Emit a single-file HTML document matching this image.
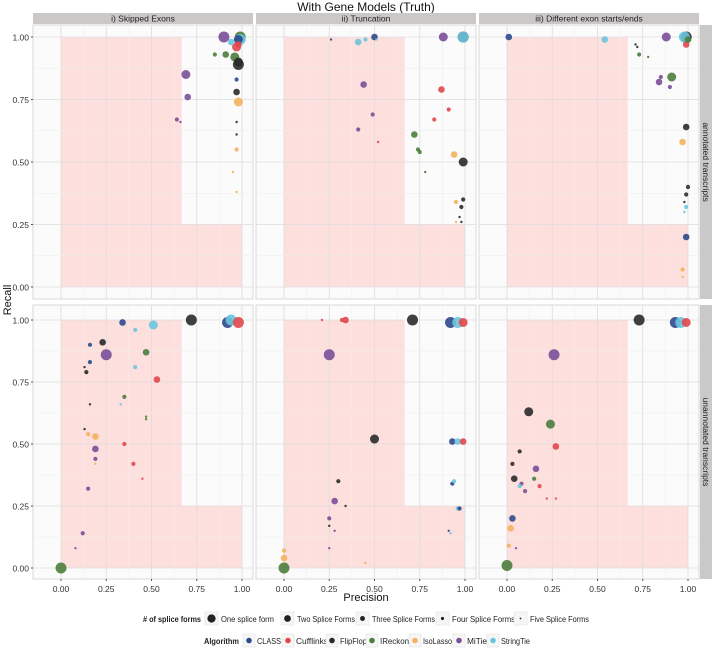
<!DOCTYPE html>
<html><head><meta charset="utf-8"><style>
body{margin:0;background:#fff;font-family:"Liberation Sans",sans-serif}
svg text{font-family:"Liberation Sans",sans-serif}
</style></head><body>
<svg id="chart" width="714" height="652" xmlns="http://www.w3.org/2000/svg">
<text x="366" y="11" font-size="12" text-anchor="middle" fill="#111">With Gene Models (Truth)</text>
<text transform="translate(11,300) rotate(-90)" font-size="11" text-anchor="middle" fill="#111">Recall</text>
<text x="366" y="601" font-size="11" text-anchor="middle" fill="#111">Precision</text>
<g id="panels"></g>
<g id="legend"></g>
</svg>
<script>
const algNames=["CLASS","Cufflinks","FlipFlop","IReckon","IsoLasso","MiTie","StringTie"];
const algColors=["#2c4a8c","#e0474c","#2a2a2a","#4b7d3c","#f4b15e","#7a4f98","#6cc5de"];
const formNames=["One splice form","Two Splice Forms","Three Splice Forms","Four Splice Forms","Five Splice Forms"];
const formRadius=[5.5,4.5,3.3,2.1,1.2];
const colTitles=["i) Skipped Exons","ii) Truncation","iii) Different exon starts/ends"];
const rowTitles=["annotated transcripts","unannotated transcripts"];
const tickValues=[0,0.25,0.5,0.75,1];
const tickLabels=["0.00","0.25","0.50","0.75","1.00"];
// each point: panel index (row*3+col), algorithm, splice-form, precision, recall
const pointPanel=[];const pointAlg=[];const pointForm=[];const pointPrecision=[];const pointRecall=[];
const raw=[
[0,5,0,0.90,1.00],[0,3,0,0.99,1.00],[0,0,1,0.98,0.99],[0,6,0,0.99,0.99],[0,1,1,0.97,0.96],[0,1,2,0.98,0.97],[0,3,3,0.85,0.93],[0,3,2,0.91,0.93],[0,3,1,0.96,0.92],[0,2,1,0.98,0.90],[0,2,0,0.98,0.89],[0,5,1,0.69,0.85],[0,5,2,0.70,0.76],[0,0,3,0.97,0.83],[0,2,2,0.97,0.78],[0,4,1,0.98,0.74],[0,2,4,0.97,0.66],[0,5,3,0.64,0.67],[0,5,4,0.66,0.66],[0,2,4,0.97,0.61],[0,4,3,0.97,0.55],[0,4,4,0.95,0.46],[0,4,4,0.97,0.38],[0,6,2,0.94,0.98],
[1,0,4,0.26,0.99],[1,6,2,0.41,0.98],[1,6,3,0.45,0.99],[1,6,4,0.51,0.99],[1,0,2,0.50,1.00],[1,5,1,0.88,1.00],[1,2,0,0.99,1.00],[1,6,0,0.99,1.00],[1,5,2,0.44,0.81],[1,1,2,0.87,0.79],[1,1,3,0.91,0.71],[1,5,3,0.49,0.69],[1,5,3,0.41,0.63],[1,1,3,0.83,0.67],[1,3,2,0.72,0.61],[1,3,3,0.74,0.55],[1,3,3,0.75,0.54],[1,3,4,0.78,0.46],[1,1,4,0.52,0.58],[1,4,2,0.94,0.53],[1,2,1,0.99,0.50],[1,4,3,0.95,0.34],[1,2,3,0.99,0.35],[1,2,3,0.98,0.32],[1,2,4,0.98,0.26],[1,2,4,0.97,0.28],[1,4,4,0.95,0.26],
[2,0,2,0.01,1.00],[2,6,2,0.54,0.99],[2,5,1,0.88,1.00],[2,2,0,0.99,1.00],[2,6,0,0.98,1.00],[2,1,2,0.99,0.97],[2,3,2,1.00,0.99],[2,2,4,0.71,0.97],[2,2,4,0.72,0.96],[2,3,3,0.73,0.93],[2,3,4,0.78,0.92],[2,3,1,0.91,0.84],[2,5,2,0.84,0.82],[2,5,3,0.85,0.84],[2,5,3,0.90,0.80],[2,2,2,0.99,0.64],[2,4,2,0.97,0.58],[2,2,3,1.00,0.40],[2,2,3,0.99,0.37],[2,2,4,0.98,0.34],[2,6,3,0.99,0.32],[2,6,4,0.98,0.30],[2,0,2,0.99,0.20],[2,4,3,0.97,0.07],[2,4,4,0.97,0.04],
[3,0,2,0.34,0.99],[3,6,1,0.51,0.98],[3,6,3,0.41,0.96],[3,2,0,0.72,1.00],[3,0,0,0.92,0.99],[3,6,0,0.94,1.00],[3,1,0,0.98,0.99],[3,0,3,0.16,0.90],[3,2,2,0.23,0.91],[3,0,3,0.16,0.83],[3,5,0,0.25,0.86],[3,3,2,0.47,0.87],[3,6,3,0.41,0.81],[3,2,3,0.14,0.79],[3,2,4,0.13,0.81],[3,3,3,0.35,0.69],[3,1,2,0.53,0.76],[3,6,4,0.33,0.66],[3,2,4,0.16,0.66],[3,2,4,0.13,0.56],[3,4,3,0.15,0.54],[3,4,2,0.19,0.53],[3,3,4,0.47,0.61],[3,3,4,0.47,0.60],[3,1,3,0.35,0.50],[3,5,2,0.19,0.48],[3,5,3,0.19,0.44],[3,4,4,0.19,0.42],[3,1,3,0.40,0.42],[3,5,3,0.15,0.32],[3,1,4,0.45,0.36],[3,5,3,0.12,0.14],[3,5,4,0.08,0.08],[3,3,0,0.00,0.00],
[4,1,4,0.21,1.00],[4,1,3,0.32,1.00],[4,1,2,0.34,1.00],[4,2,0,0.71,1.00],[4,0,0,0.92,0.99],[4,6,0,0.96,0.99],[4,1,1,0.99,0.99],[4,5,0,0.25,0.86],[4,2,1,0.50,0.52],[4,0,2,0.93,0.51],[4,6,2,0.96,0.51],[4,1,2,0.99,0.51],[4,2,3,0.30,0.35],[4,5,2,0.28,0.27],[4,2,4,0.34,0.25],[4,0,3,0.93,0.34],[4,6,3,0.94,0.35],[4,5,3,0.25,0.20],[4,5,4,0.28,0.15],[4,5,4,0.25,0.08],[4,2,4,0.25,0.17],[4,6,3,0.96,0.24],[4,0,3,0.97,0.24],[4,4,4,0.45,0.02],[4,0,4,0.91,0.15],[4,6,4,0.92,0.14],[4,4,3,0.00,0.07],[4,4,2,0.00,0.04],[4,3,0,0.00,0.00],
[5,2,0,0.73,1.00],[5,0,0,0.93,0.99],[5,6,0,0.96,0.99],[5,1,1,0.99,0.99],[5,5,0,0.26,0.86],[5,2,1,0.12,0.63],[5,3,1,0.24,0.58],[5,2,3,0.03,0.42],[5,2,3,0.07,0.47],[5,2,2,0.04,0.36],[5,1,2,0.27,0.49],[5,5,2,0.16,0.40],[5,3,3,0.15,0.36],[5,1,3,0.18,0.33],[5,5,3,0.08,0.34],[5,5,3,0.10,0.31],[5,6,3,0.07,0.33],[5,1,4,0.22,0.28],[5,1,4,0.27,0.28],[5,0,2,0.03,0.20],[5,4,2,0.02,0.16],[5,4,3,0.01,0.09],[5,5,4,0.05,0.08],[5,3,0,0.00,0.01]
];
raw.forEach(r=>{pointPanel.push(r[0]);pointAlg.push(r[1]);pointForm.push(r[2]);pointPrecision.push(r[3]);pointRecall.push(r[4]);});

const NS="http://www.w3.org/2000/svg";
function mk(tag,attrs,parent){const e=document.createElementNS(NS,tag);for(const k in attrs)e.setAttribute(k,attrs[k]);parent.appendChild(e);return e;}
const colX=[33,256,479],panelW=220;
const rowY=[25,305],panelH=274;
const xZero=28,xUnit=181;
const yZero=[262,263],yUnit=[250,248];
function xs(c,v){return colX[c]+xZero+v*xUnit;}
function ys(r,v){return rowY[r]+yZero[r]-v*yUnit[r];}
const G=document.getElementById('panels');
for(let r=0;r<2;r++)for(let c=0;c<3;c++){
  const g=mk('g',{},G);
  
  
  mk('rect',{x:colX[c],y:rowY[r],width:panelW,height:panelH,fill:'#fbfbfb',stroke:'#cfcfcf','stroke-width':0.8},g);
  const sh=mk('path',{d:`M${xs(c,0)},${ys(r,1)}H${xs(c,0.667)}V${ys(r,0.25)}H${xs(c,1)}V${ys(r,0)}H${xs(c,0)}Z`,fill:'#fde0dd'},g);
  
  
  for(let i=0;i<tickValues.length;i++){
    const v=tickValues[i];
    mk('line',{x1:xs(c,v),x2:xs(c,v),y1:rowY[r],y2:rowY[r]+panelH,stroke:'#dcdcdc','stroke-width':0.8},g);
    mk('line',{x1:colX[c],x2:colX[c]+panelW,y1:ys(r,v),y2:ys(r,v),stroke:'#dcdcdc','stroke-width':0.8},g);
    if(i<4){const m=v+0.125;
      mk('line',{x1:xs(c,m),x2:xs(c,m),y1:rowY[r],y2:rowY[r]+panelH,stroke:'#eeeeee','stroke-width':0.5},g);
      mk('line',{x1:colX[c],x2:colX[c]+panelW,y1:ys(r,m),y2:ys(r,m),stroke:'#eeeeee','stroke-width':0.5},g);}
    if(c===0){const t=mk('text',{x:colX[0]-4,y:ys(r,v)+3.5,'font-size':8.5,'text-anchor':'end',fill:'#333'},g);t.textContent=tickLabels[i];
      
      mk('line',{x1:colX[0]-2,x2:colX[0],y1:ys(r,v),y2:ys(r,v),stroke:'#555'},g);}
    if(r===1){const t=mk('text',{x:xs(c,v),y:592,'font-size':8.5,'text-anchor':'middle',fill:'#333'},g);t.textContent=tickLabels[i];
      
      mk('line',{x1:xs(c,v),x2:xs(c,v),y1:rowY[1]+panelH,y2:rowY[1]+panelH+2,stroke:'#555'},g);}
  }
  if(r===0){mk('rect',{x:colX[c],y:13,width:panelW,height:11,fill:'#cbc8c8'},g);
    const t=mk('text',{x:colX[c]+panelW/2,y:21.5,'font-size':8.5,'text-anchor':'middle',fill:'#222'},g);t.textContent=colTitles[c];
    }
  if(c===2){mk('rect',{x:700,y:rowY[r],width:12,height:panelH,fill:'#cbc8c8'},g);
    const t=mk('text',{transform:`translate(703,${rowY[r]+panelH/2}) rotate(90)`,'font-size':8.5,'text-anchor':'middle',fill:'#222'},g);t.textContent=rowTitles[r];
    }
}
const order=pointPanel.map((_,i)=>i).sort((a,b)=>pointForm[a]-pointForm[b]);
order.forEach(i=>{
  const p=pointPanel[i],r=Math.floor(p/3),c=p%3;
  const e=mk('circle',{cx:xs(c,pointPrecision[i]),cy:ys(r,pointRecall[i]),r:formRadius[pointForm[i]],fill:algColors[pointAlg[i]],'fill-opacity':0.9},G);
  
  
});
// legend
const L=document.getElementById('legend');
function lt(x,y,s,bold,w){const a={x:x,y:y,'font-size':7.8,fill:'#222','font-weight':bold?'bold':'normal'};if(w){a.textLength=w;a.lengthAdjust='spacingAndGlyphs';}const t=mk('text',a,L);t.textContent=s;return t;}
const h1=lt(143,622,'# of splice forms',true,58);
const formKeyX=[205,281,356,436,514];
const formLabelW=[53,58,63,63,59];
formNames.forEach((n,i)=>{
  mk('rect',{x:formKeyX[i],y:612,width:13,height:13,fill:'#f6f6f6',stroke:'#ddd','stroke-width':0.5},L);
  mk('circle',{cx:formKeyX[i]+6.5,cy:618.5,r:formRadius[i]*0.75,fill:'#222'},L);
  const t=lt(formKeyX[i]+16,622,n,false,formLabelW[i]);
  
});
const h2=lt(204,644,'Algorithm',true,35);
const algKeyX=[243,282,326,366,409,453,487];
const algLabelW=[24,32,27,29,29,20,29];
algNames.forEach((n,i)=>{
  mk('rect',{x:algKeyX[i],y:634,width:12,height:13,fill:'#f6f6f6',stroke:'#ddd','stroke-width':0.5},L);
  mk('circle',{cx:algKeyX[i]+6,cy:640.5,r:2.8,fill:algColors[i]},L);
  const t=lt(algKeyX[i]+14,644,n,false,algLabelW[i]);
  
});
</script>
</body></html>
